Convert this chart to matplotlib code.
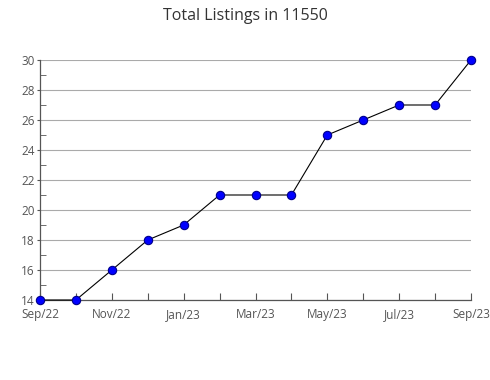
import matplotlib
matplotlib.use("Agg")
import matplotlib.pyplot as plt
from matplotlib.ticker import MultipleLocator

months = ["Sep/22", "Oct/22", "Nov/22", "Dec/22", "Jan/23", "Feb/23", "Mar/23",
          "Apr/23", "May/23", "Jun/23", "Jul/23", "Aug/23", "Sep/23"]
listings = [14, 14, 16, 18, 19, 21, 21, 21, 25, 26, 27, 27, 30]
title = "Total Listings in 11550"

plt.rcParams['font.family'] = ['Open Sans', 'DejaVu Sans']

fig = plt.figure(figsize=(4.9, 3.8), dpi=100)
ax = fig.add_axes([40/490, 1-300/380, 431/490, 240/380])

x = list(range(len(months)))
ax.plot(x, listings, color="black", lw=0.8, marker="o", markersize=6,
        markerfacecolor="#0000ff", markeredgecolor="#00008b", markeredgewidth=0.8,
        zorder=3, clip_on=False)

ax.set_xlim(0, len(months)-1)
ax.set_ylim(14, 30)
ax.yaxis.set_major_locator(MultipleLocator(2))
ax.yaxis.set_minor_locator(MultipleLocator(1))
ax.set_xticks(x)
ax.set_xticklabels([m if i % 2 == 0 else "" for i, m in enumerate(months)])
ax.grid(axis="y", which="major", color="#aaaaaa", lw=0.8)
ax.set_axisbelow(True)

for s in ["top", "right"]:
    ax.spines[s].set_visible(False)
for s in ["left", "bottom"]:
    ax.spines[s].set_color("#555555")
    ax.spines[s].set_linewidth(0.9)

ax.tick_params(axis="x", direction="in", length=5, color="#555555",
               labelsize=8.5, labelcolor="#555555", pad=6)
ax.tick_params(axis="y", which="major", direction="out", length=2, color="#555555",
               labelsize=8.5, labelcolor="#555555", pad=2)
ax.tick_params(axis="y", which="minor", direction="in", length=4, color="#555555")

fig.text(0.5, 1-16/380, title, ha="center", va="center", fontsize=11.5, color="#333333")

fig.savefig("out.png", dpi=100)
